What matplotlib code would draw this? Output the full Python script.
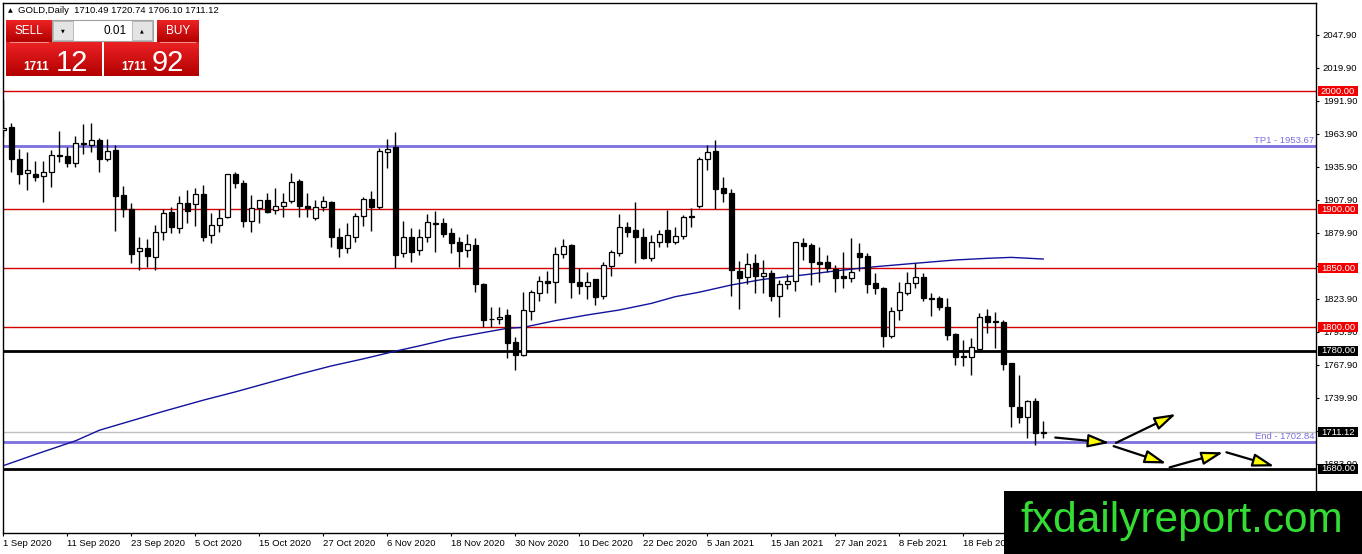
import matplotlib
matplotlib.use("Agg")
import matplotlib.pyplot as plt
import numpy as np
from matplotlib.patches import Rectangle
from matplotlib.colors import LinearSegmentedColormap

plt.rcParams['font.family'] = ['Liberation Sans', 'DejaVu Sans']

# ---------------- data (GOLD daily) ----------------
opens = [1966.9, 1969.2, 1942.1, 1930.2, 1929.7, 1928.0, 1931.0, 1945.5, 1945.0, 1939.3,
         1956.2, 1954.2, 1958.5, 1942.4, 1950.0, 1911.9, 1899.7, 1864.1, 1866.9, 1859.0,
         1880.2, 1897.2, 1884.0, 1904.8, 1904.0, 1912.7, 1878.0, 1886.4, 1892.9, 1929.7,
         1922.3, 1890.1, 1900.6, 1907.6, 1899.1, 1902.8, 1906.8, 1923.7, 1902.8, 1892.0,
         1901.4, 1906.2, 1876.0, 1866.7, 1876.0, 1894.4, 1908.2, 1902.0, 1948.0, 1952.8,
         1862.4, 1876.0, 1865.2, 1876.0, 1887.6, 1887.9, 1879.4, 1871.7, 1865.2, 1869.5,
         1836.4, 1806.6, 1806.5, 1810.2, 1787.6, 1776.3, 1813.8, 1829.1, 1839.3, 1837.9,
         1861.9, 1869.5, 1838.4, 1835.0, 1840.4, 1826.6, 1852.0, 1863.0, 1884.5, 1882.2,
         1876.0, 1858.8, 1871.7, 1882.2, 1872.3, 1877.4, 1894.0, 1902.5, 1942.1, 1949.2,
         1917.5, 1913.3, 1847.4, 1842.7, 1854.0, 1843.5, 1845.5, 1826.6, 1836.2, 1839.3,
         1870.9, 1869.5, 1854.8, 1854.8, 1848.9, 1843.2, 1841.8, 1862.4, 1860.2, 1837.0,
         1832.8, 1792.7, 1814.4, 1829.1, 1837.0, 1842.1, 1824.3, 1824.3, 1817.2, 1794.1,
         1775.4, 1774.9, 1781.0, 1809.3, 1805.0, 1804.5, 1769.2, 1732.5, 1723.4, 1737.3,
         1710.49]
highs = [1992.4, 1972.6, 1950.6, 1948.6, 1941.0, 1941.0, 1950.0, 1966.0, 1952.8, 1961.9,
         1971.8, 1973.2, 1960.5, 1959.3, 1954.2, 1919.5, 1904.8, 1876.6, 1874.3, 1886.4,
         1900.0, 1901.4, 1911.0, 1916.1, 1917.5, 1920.3, 1896.9, 1899.7, 1930.0, 1931.6,
         1924.6, 1911.9, 1908.0, 1913.3, 1917.5, 1913.8, 1930.8, 1925.1, 1913.3, 1907.6,
         1911.0, 1906.5, 1883.6, 1888.4, 1897.0, 1910.4, 1915.5, 1951.4, 1959.3, 1965.0,
         1889.8, 1883.6, 1883.0, 1895.8, 1898.6, 1892.0, 1883.6, 1876.0, 1878.8, 1875.1,
         1837.6, 1816.7, 1817.2, 1815.0, 1791.8, 1829.9, 1831.4, 1843.5, 1847.7, 1868.1,
         1874.6, 1870.0, 1849.7, 1846.3, 1841.0, 1854.8, 1865.3, 1895.8, 1889.3, 1906.2,
         1884.2, 1878.0, 1882.2, 1899.1, 1885.0, 1894.9, 1900.6, 1944.4, 1954.2, 1958.5,
         1926.8, 1916.7, 1855.9, 1862.4, 1861.9, 1856.8, 1848.3, 1839.8, 1844.9, 1872.3,
         1875.1, 1870.9, 1867.5, 1861.0, 1852.5, 1863.8, 1875.1, 1870.9, 1862.4, 1845.5,
         1834.0, 1817.2, 1837.9, 1846.9, 1853.9, 1846.0, 1829.1, 1826.3, 1824.9, 1794.6,
         1789.0, 1790.4, 1811.6, 1815.0, 1813.0, 1806.0, 1769.8, 1759.3, 1738.1, 1740.1,
         1720.74]
lows = [1961.3, 1931.6, 1920.9, 1916.1, 1923.7, 1905.6, 1919.0, 1940.0, 1935.9, 1935.9,
        1946.6, 1948.6, 1931.6, 1941.0, 1881.6, 1893.5, 1853.9, 1848.0, 1851.1, 1848.0,
        1873.7, 1880.0, 1880.0, 1888.4, 1885.6, 1873.2, 1871.4, 1880.8, 1892.0, 1917.5,
        1885.0, 1880.8, 1888.4, 1896.3, 1895.8, 1893.5, 1905.0, 1893.5, 1893.5, 1891.0,
        1898.6, 1868.0, 1859.0, 1863.0, 1872.3, 1885.6, 1881.6, 1900.0, 1934.5, 1849.7,
        1859.0, 1855.4, 1861.0, 1872.3, 1863.8, 1876.0, 1863.0, 1851.1, 1859.6, 1829.9,
        1800.3, 1800.3, 1802.5, 1773.4, 1763.6, 1775.0, 1805.9, 1822.3, 1828.5, 1820.6,
        1858.8, 1824.3, 1827.7, 1823.4, 1818.7, 1823.7, 1843.5, 1860.5, 1876.0, 1854.0,
        1857.3, 1856.2, 1868.1, 1868.1, 1870.3, 1874.6, 1884.4, 1901.0, 1933.0, 1900.0,
        1906.2, 1826.6, 1815.3, 1836.2, 1828.5, 1828.5, 1822.3, 1808.8, 1831.9, 1830.5,
        1856.8, 1835.6, 1838.4, 1846.9, 1829.9, 1832.8, 1838.4, 1847.7, 1828.5, 1828.0,
        1783.3, 1791.0, 1805.9, 1827.1, 1832.8, 1822.0, 1809.6, 1814.4, 1789.0, 1767.8,
        1767.2, 1759.3, 1779.0, 1794.6, 1781.9, 1763.6, 1715.5, 1718.4, 1705.6, 1700.0,
        1706.10]
closes = [1968.9, 1942.1, 1929.4, 1933.0, 1927.4, 1931.6, 1945.8, 1944.6, 1939.3, 1955.6,
          1954.8, 1958.5, 1942.4, 1949.2, 1911.0, 1899.7, 1861.9, 1866.9, 1860.2, 1880.2,
          1896.3, 1884.5, 1904.8, 1898.6, 1912.7, 1876.5, 1886.4, 1892.6, 1929.7, 1921.7,
          1890.1, 1900.6, 1907.6, 1897.7, 1902.8, 1905.6, 1923.2, 1902.5, 1900.6, 1901.4,
          1906.8, 1876.0, 1866.7, 1878.0, 1894.4, 1908.2, 1902.0, 1949.2, 1950.6, 1861.0,
          1876.0, 1863.8, 1876.0, 1888.7, 1888.2, 1878.5, 1870.9, 1864.7, 1870.3, 1836.2,
          1805.9, 1807.0, 1808.7, 1786.2, 1776.3, 1814.4, 1829.4, 1839.3, 1837.6, 1861.6,
          1869.0, 1838.4, 1835.0, 1838.4, 1825.7, 1852.5, 1863.3, 1884.5, 1880.2, 1876.0,
          1858.8, 1871.7, 1878.5, 1872.3, 1877.4, 1893.5, 1893.0, 1942.1, 1948.6, 1916.9,
          1913.3, 1848.3, 1841.8, 1853.1, 1843.5, 1845.5, 1826.6, 1836.2, 1839.3, 1871.7,
          1868.9, 1854.8, 1853.4, 1850.3, 1841.8, 1841.2, 1846.3, 1859.6, 1836.4, 1832.8,
          1792.4, 1813.6, 1829.4, 1837.0, 1842.1, 1824.3, 1823.4, 1817.2, 1793.2, 1774.9,
          1774.3, 1783.3, 1808.2, 1804.5, 1804.0, 1768.6, 1733.3, 1723.4, 1737.3, 1709.9,
          1711.12]

# moving average (read at selected bars)
ma_bars = [0, 4, 9, 12, 16, 20, 25, 29, 33, 37, 41, 45, 49, 52, 56, 63, 65, 69, 73, 77,
           81, 84, 87, 91, 95, 100, 104, 107, 109, 114, 119, 123, 126, 130]
ma_values = [1682.5, 1692.0, 1703.5, 1712.5, 1720.5, 1728.5, 1738.0, 1745.0, 1752.5, 1760.0,
             1767.0, 1773.0, 1779.5, 1784.0, 1790.4, 1798.9, 1799.7, 1805.4, 1810.2, 1814.4,
             1820.0, 1825.7, 1829.5, 1835.6, 1840.4, 1844.1, 1847.5, 1849.7, 1851.1, 1854.0,
             1856.8, 1858.2, 1859.0, 1857.6]

date_bars = [0, 8, 16, 24, 32, 40, 48, 56, 64, 72, 80, 88, 96, 104, 112, 120]
date_labels = ["1 Sep 2020", "11 Sep 2020", "23 Sep 2020", "5 Oct 2020", "15 Oct 2020",
               "27 Oct 2020", "6 Nov 2020", "18 Nov 2020", "30 Nov 2020", "10 Dec 2020",
               "22 Dec 2020", "5 Jan 2021", "15 Jan 2021", "27 Jan 2021", "8 Feb 2021",
               "18 Feb 2021"]

price_ticks = [2047.90, 2019.90, 1991.90, 1963.90, 1935.90, 1907.90, 1879.90, 1851.90,
               1823.90, 1795.90, 1767.90, 1739.90, 1711.90, 1683.90]

red_levels = [2000.00, 1900.00, 1850.00, 1800.00]
black_levels = [1780.00, 1680.00]
tp1_level = 1953.67
end_level = 1702.84
bid_price = 1711.12

# forecast arrows (start bar, start price) -> (end bar, end price)
arrow_starts = [(131.5, 1706.3), (139.1, 1701.8), (138.8, 1699.0), (145.8, 1681.0), (152.9, 1693.8)]
arrow_ends = [(138.3, 1701.8), (146.6, 1726.3), (145.4, 1684.3), (152.5, 1693.8), (158.9, 1681.9)]

header_text = "GOLD,Daily  1710.49 1720.74 1706.10 1711.12"
lot_text = "0.01"
sell_big, sell_small = "12", "1711"
buy_big, buy_small = "92", "1711"

# ---------------- figure ----------------
W, H = 1362, 554
fig = plt.figure(figsize=(W / 100, H / 100), dpi=100)
fig.patch.set_facecolor('white')


def px_rect(x0, y0, x1, y1):
    return [x0 / W, 1 - y1 / H, (x1 - x0) / W, (y1 - y0) / H]


ax = fig.add_axes(px_rect(3, 3, 1316, 533))
ax.set_facecolor('white')
ax.set_xlim(-0.05, 164.1)
ax.set_ylim(1625.4, 2074.6)

# horizontal levels
for lv in red_levels:
    ax.axhline(lv, color='#d40000', lw=1.0, zorder=1)
for lv in black_levels:
    ax.axhline(lv, color='black', lw=2.0, zorder=1)
ax.axhline(bid_price, color='#c0c0c0', lw=1.0, zorder=1)
ax.axhline(tp1_level, color='#7b70dd', lw=2.0, zorder=1)
ax.axhline(end_level, color='#7b70dd', lw=2.0, zorder=1)

ax.text(0.9985, tp1_level + 0.9, f"TP1 - {tp1_level:.2f}", transform=ax.get_yaxis_transform(),
        ha='right', va='bottom', color='#7b70dd', fontsize=6.8)
ax.text(0.9985, end_level + 0.9, f"End - {end_level:.2f}", transform=ax.get_yaxis_transform(),
        ha='right', va='bottom', color='#7b70dd', fontsize=6.8)

# moving average
ax.plot(ma_bars, ma_values, color='#12129e', lw=1.0, zorder=2)

# candles
x = np.arange(len(opens))
o = np.array(opens)
c = np.array(closes)
bull = c >= o
body_lo = np.minimum(o, c)
body_h = np.maximum(np.abs(c - o), 0.35)
ax.vlines(x, lows, highs, color='black', lw=1.0, zorder=3)
ax.bar(x, body_h, bottom=body_lo, width=0.64, color=np.where(bull, 'white', 'black'),
       edgecolor='black', linewidth=0.9, zorder=4)

# arrows
for (s, e) in zip(arrow_starts, arrow_ends):
    ax.annotate('', xy=e, xytext=s,
                arrowprops=dict(arrowstyle='-|>,head_length=1.3,head_width=0.4',
                                fc='#ffff00', ec='black', lw=1.6,
                                shrinkA=0, shrinkB=0), zorder=5)

# axes styling
for sp in ax.spines.values():
    sp.set_color('black')
    sp.set_linewidth(1.0)
ax.yaxis.tick_right()
ax.set_yticks(price_ticks)
ax.set_yticklabels([f"{t:.2f}" for t in price_ticks])
ax.tick_params(axis='y', length=2.5, width=0.8, pad=2.5, labelsize=6.8, colors='black')
ax.set_xticks(date_bars)
ax.set_xticklabels(date_labels, ha='left')
ax.tick_params(axis='x', length=2.5, width=0.8, pad=1.5, labelsize=6.8, colors='black')

# ---------------- overlay (panel, price boxes, logo) ----------------
ov = fig.add_axes([0, 0, 1, 1], zorder=10)
ov.axis('off')
ov.patch.set_visible(False)

red_cmap = LinearSegmentedColormap.from_list('redgrad', ['#ec2224', '#b30000'])
grad = np.linspace(0, 1, 64).reshape(-1, 1)


def grad_box(x0, y0, x1, y1):
    ov.imshow(grad, cmap=red_cmap, extent=(x0, x1, y1, y0), aspect='auto',
              interpolation='bilinear', zorder=2)


# header
ov.text(10, 10.5, '\u25B2', fontsize=4.5, ha='center', va='center', family='DejaVu Sans')
ov.text(18, 10.5, header_text, fontsize=6.8, ha='left', va='center')

# sell / buy buttons
grad_box(6, 20, 52, 42)
grad_box(157, 20, 199, 42)
ov.plot([10, 48], [41.5, 41.5], color='#f08a8a', lw=0.8, zorder=3)
ov.plot([160, 195], [41.5, 41.5], color='#f08a8a', lw=0.8, zorder=3)
ov.text(29, 31, "SELL", color='white', fontsize=8.5, ha='center', va='center', zorder=4)
ov.text(178, 31, "BUY", color='white', fontsize=8.5, ha='center', va='center', zorder=4)

# lot spinner
ov.add_patch(Rectangle((52, 20), 101, 21, fc='white', ec='#a0a0a0', lw=0.8, zorder=2))
ov.add_patch(Rectangle((53, 21), 20, 19, fc='#e4e4e4', ec='#b0b0b0', lw=0.6, zorder=3))
ov.add_patch(Rectangle((132, 21), 20, 19, fc='#e4e4e4', ec='#b0b0b0', lw=0.6, zorder=3))
ov.text(63, 30.5, '\u25BC', fontsize=3.5, ha='center', va='center', family='DejaVu Sans', zorder=4)
ov.text(142, 30.5, '\u25B2', fontsize=3.5, ha='center', va='center', family='DejaVu Sans', zorder=4)
ov.text(127, 30.5, lot_text, fontsize=8.5, ha='right', va='center', zorder=4)

# price boxes
grad_box(6, 42, 102, 76)
grad_box(104, 42, 199, 76)
ov.text(36, 70.5, sell_small, color='white', fontsize=8.5, fontweight='bold', ha='center',
        va='baseline', zorder=4)
ov.text(72, 71, sell_big, color='white', fontsize=21, ha='center', va='baseline', zorder=4)
ov.text(134, 70.5, buy_small, color='white', fontsize=8.5, fontweight='bold', ha='center',
        va='baseline', zorder=4)
ov.text(168, 71, buy_big, color='white', fontsize=21, ha='center', va='baseline', zorder=4)

# right-side price boxes
fig.canvas.draw()


def level_y(p):
    return H - ax.transData.transform((0, p))[1]


box_levels = [(lv, '#f00000') for lv in red_levels] + \
             [(lv, 'black') for lv in black_levels] + [(bid_price, 'black')]
for lv, fc in box_levels:
    yy = level_y(lv)
    ov.add_patch(Rectangle((1318, yy - 5), 40, 10, fc=fc, ec='none', zorder=5))
    ov.text(1338, yy + 0.3, f"{lv:.2f}", color='white', fontsize=6.8, ha='center',
            va='center', zorder=6)

# logo
ov.add_patch(Rectangle((1004, 491), 358, 63, fc='black', ec='none', zorder=7))
ov.text(1020, 532, "fxdailyreport.com", color='#33dd33', fontsize=30.5, ha='left',
        va='baseline', zorder=8)

ov.set_xlim(0, W)
ov.set_ylim(H, 0)

fig.savefig('out.png', dpi=100, facecolor='white')
